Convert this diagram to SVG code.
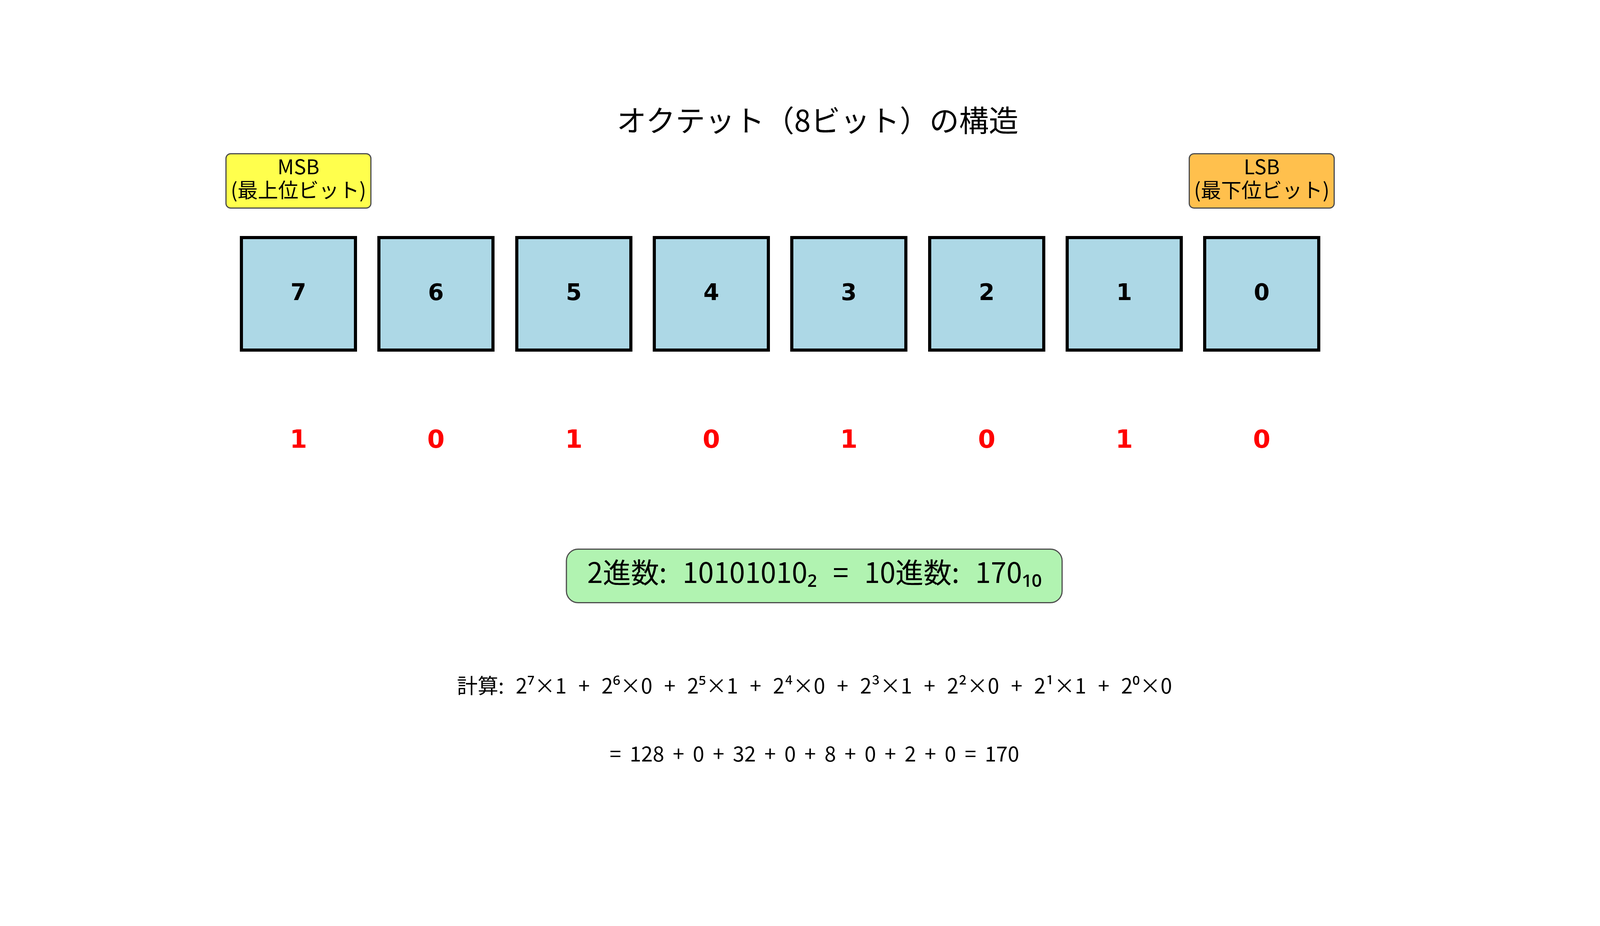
<svg xmlns="http://www.w3.org/2000/svg" width="4170" height="2370" viewBox="0 0 4170 2370">
<style>
.jp{font-family:"Noto Sans CJK JP","Noto Sans",sans-serif;fill:#000;text-anchor:middle}
.bit{fill:#ADD8E6;stroke:#000;stroke-width:8}
.bn{font-family:"DejaVu Sans",sans-serif;font-weight:bold;font-size:58px;text-anchor:middle;fill:#000}
.rv{font-family:"DejaVu Sans",sans-serif;font-weight:bold;font-size:64px;text-anchor:middle;fill:#FF0000}
.tag{stroke:#4D4D4D;stroke-width:3}
</style>
<rect width="4170" height="2370" fill="#fff"/>
<g id="title"><text class="jp" x="2093" y="337" font-size="76">オクテット（8ビット）の構造</text></g>
<g id="msb">
<rect class="tag" x="578.5" y="393.5" width="371" height="139" rx="12" fill="#FFFF4D"/>
<text class="jp" font-size="52"><tspan x="764" y="446">MSB</tspan><tspan x="764" y="506">(最上位ビット)</tspan></text>
</g>
<g id="lsb">
<rect class="tag" x="3044.5" y="393.5" width="371" height="139" rx="12" fill="#FFC04D"/>
<text class="jp" font-size="52"><tspan x="3230" y="446">LSB</tspan><tspan x="3230" y="506">(最下位ビット)</tspan></text>
</g>
<g id="bit7"><rect class="bit" x="618" y="608" width="292" height="288"/><text class="bn" x="764" y="768">7</text><text class="rv" x="764" y="1146">1</text></g>
<g id="bit6"><rect class="bit" x="970" y="608" width="292" height="288"/><text class="bn" x="1116" y="768">6</text><text class="rv" x="1116" y="1146">0</text></g>
<g id="bit5"><rect class="bit" x="1323" y="608" width="292" height="288"/><text class="bn" x="1469" y="768">5</text><text class="rv" x="1469" y="1146">1</text></g>
<g id="bit4"><rect class="bit" x="1675" y="608" width="292" height="288"/><text class="bn" x="1821" y="768">4</text><text class="rv" x="1821" y="1146">0</text></g>
<g id="bit3"><rect class="bit" x="2027" y="608" width="292" height="288"/><text class="bn" x="2173" y="768">3</text><text class="rv" x="2173" y="1146">1</text></g>
<g id="bit2"><rect class="bit" x="2380" y="608" width="292" height="288"/><text class="bn" x="2526" y="768">2</text><text class="rv" x="2526" y="1146">0</text></g>
<g id="bit1"><rect class="bit" x="2732" y="608" width="292" height="288"/><text class="bn" x="2878" y="768">1</text><text class="rv" x="2878" y="1146">1</text></g>
<g id="bit0"><rect class="bit" x="3084" y="608" width="292" height="288"/><text class="bn" x="3230" y="768">0</text><text class="rv" x="3230" y="1146">0</text></g>
<g id="result">
<rect class="tag" x="1450" y="1405.5" width="1269" height="137" rx="30" fill="#B1F3B1"/>
<text class="jp" x="2085" y="1492" font-size="72" word-spacing="24">2進数: 10101010₂ = 10進数: 170₁₀</text>
</g>
<g id="calc">
<text class="jp" x="2085" y="1775" font-size="53" word-spacing="18">計算: 2⁷×1 + 2⁶×0 + 2⁵×1 + 2⁴×0 + 2³×1 + 2²×0 + 2¹×1 + 2⁰×0</text>
<text class="jp" x="2085" y="1949" font-size="53" word-spacing="10">= 128 + 0 + 32 + 0 + 8 + 0 + 2 + 0 = 170</text>
</g>
<g id="connectors"></g>
</svg>
